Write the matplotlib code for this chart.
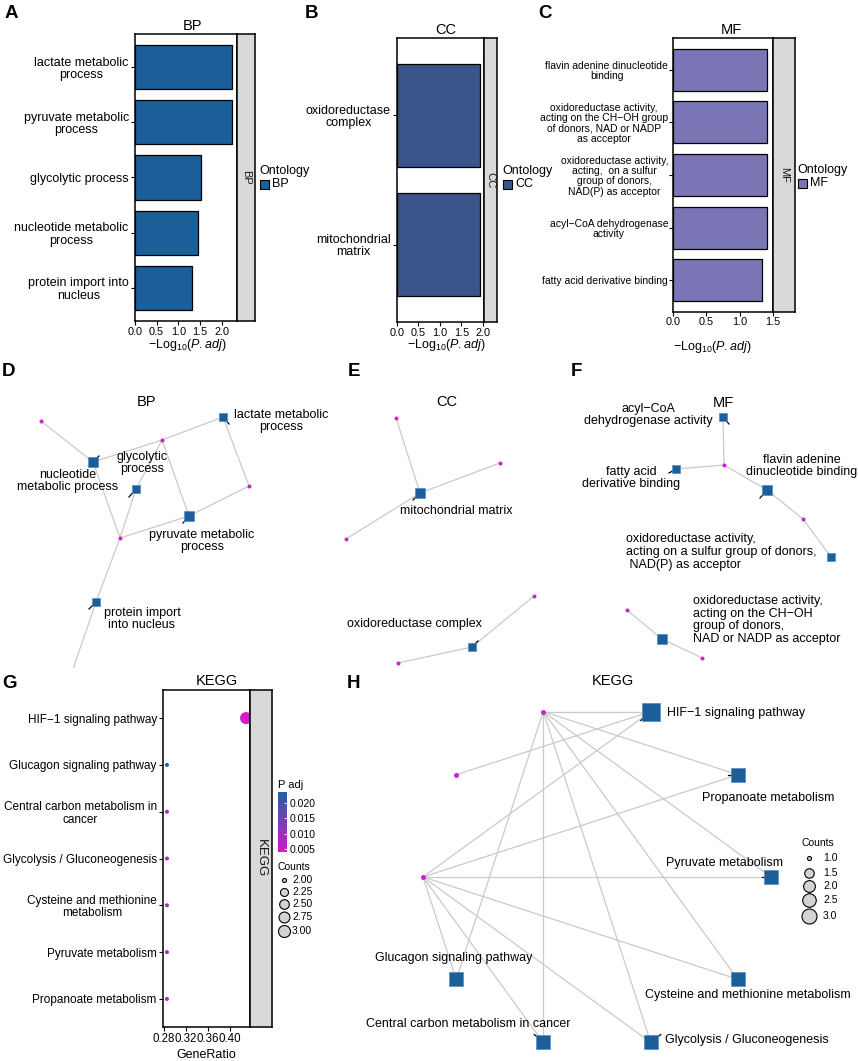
import numpy as np
import matplotlib.pyplot as plt
from matplotlib.colors import LinearSegmentedColormap, Normalize
from matplotlib.cm import ScalarMappable

plt.rcParams['font.family'] = ['Liberation Sans', 'DejaVu Sans']
plt.rcParams['mathtext.fontset'] = 'custom'
plt.rcParams['mathtext.rm'] = 'Liberation Sans'
plt.rcParams['mathtext.it'] = 'Liberation Sans:italic'

# ---------------- datos ----------------
bp_terms = ["lactate metabolic\nprocess", "pyruvate metabolic\nprocess", "glycolytic process",
            "nucleotide metabolic\nprocess", "protein import into\nnucleus"]
bp_logp = [2.24, 2.24, 1.52, 1.45, 1.31]

cc_terms = ["oxidoreductase\ncomplex", "mitochondrial\nmatrix"]
cc_logp = [1.93, 1.93]

mf_terms = ["flavin adenine dinucleotide\nbinding",
            "oxidoreductase activity,\nacting on the CH\u2212OH group\nof donors, NAD or NADP\nas acceptor",
            "oxidoreductase activity,\nacting,  on a sulfur\ngroup of donors,\nNAD(P) as acceptor",
            "acyl\u2212CoA dehydrogenase\nactivity",
            "fatty acid derivative binding"]
mf_logp = [1.41, 1.41, 1.41, 1.41, 1.34]

kegg_terms = ["HIF\u22121 signaling pathway", "Glucagon signaling pathway",
              "Central carbon metabolism in\ncancer", "Glycolysis / Gluconeogenesis",
              "Cysteine and methionine\nmetabolism", "Pyruvate metabolism", "Propanoate metabolism"]
kegg_ratio = [0.4286, 0.2857, 0.2857, 0.2857, 0.2857, 0.2857, 0.2857]
kegg_count = [3, 2, 2, 2, 2, 2, 2]
kegg_padj = [0.0040, 0.0236, 0.0080, 0.0080, 0.0080, 0.0080, 0.0080]

# redes (layout, en pixeles)
bp_net_labels = ["lactate metabolic\nprocess", "pyruvate metabolic\nprocess", "glycolytic\nprocess",
                 "nucleotide\nmetabolic process", "protein import\ninto nucleus"]
bp_net_term_xy = [(223, 417), (189, 516), (136, 489), (93, 462), (96, 602)]
bp_net_gene_xy = [(41, 421), (162, 440), (249, 486), (120, 538), (70, 678)]
bp_net_edges = [(3, 0), (3, 1), (0, 1), (0, 2), (1, 2), (1, 1), (2, 1), (2, 3),
                (3, 3), (1, 3), (4, 3), (4, 4)]

cc_net_labels = ["mitochondrial matrix", "oxidoreductase complex"]
cc_net_term_xy = [(420, 493), (472, 647)]
cc_net_gene_xy = [(396, 418), (500, 463), (346, 539), (534, 596), (398, 663)]
cc_net_edges = [(0, 0), (0, 1), (0, 2), (1, 3), (1, 4)]

mf_net_labels = ["acyl\u2212CoA\ndehydrogenase activity", "fatty acid\nderivative binding",
                 "flavin adenine\ndinucleotide binding",
                 "oxidoreductase activity,\nacting on a sulfur group of donors,\n NAD(P) as acceptor",
                 "oxidoreductase activity,\nacting on the CH\u2212OH\ngroup of donors,\nNAD or NADP as acceptor"]
mf_net_term_xy = [(723, 417), (676, 469), (767, 490), (831, 557), (662, 639)]
mf_net_gene_xy = [(724, 465), (803, 519), (627, 610), (702, 658)]
mf_net_edges = [(0, 0), (1, 0), (2, 0), (2, 1), (3, 1), (4, 2), (4, 3)]

kegg_net_order = ["gene1", "HIF\u22121 signaling pathway", "Propanoate metabolism", "Pyruvate metabolism",
                  "Cysteine and methionine metabolism", "Glycolysis / Gluconeogenesis",
                  "Central carbon metabolism in cancer", "Glucagon signaling pathway", "gene2", "gene3"]
kegg_net_genes = ["gene1", "gene2", "gene3"]
kegg_net_edges = [("gene1", p) for p in kegg_net_order[1:8]] + \
                 [("gene2", p) for p in kegg_net_order[1:8]] + \
                 [("gene3", "HIF\u22121 signaling pathway")]

# ---------------- figura ----------------
W, H = 858, 1061
fig = plt.figure(figsize=(W / 100, H / 100), dpi=100)

BP_COL = "#1B5F99"
CC_COL = "#3B5489"
MF_COL = "#7A76B5"
NODE_COL = "#1C5E98"
GENE_COL = "#CC22CC"
EDGE_COL = "#CACACA"


def px_axes(x0, y0, x1, y1):
    return fig.add_axes([x0 / W, 1 - y1 / H, (x1 - x0) / W, (y1 - y0) / H])


ov = fig.add_axes([0, 0, 1, 1])
ov.set_xlim(0, W)
ov.set_ylim(H, 0)
ov.axis('off')
ov.patch.set_alpha(0)


def pt2(d_px):
    return (d_px * 0.72) ** 2


def bar_panel(box, strip_right, terms, values, color, name, xticks, lab_size,
              title_x, xlab_xy, legend_xy, tick_pad=1.5):
    x0, y0, x1, y1 = box
    ax = px_axes(x0, y0, x1, y1)
    ypos = np.arange(len(terms))
    ax.barh(ypos, values, height=0.8, color=color, edgecolor='black', linewidth=0.9, zorder=2)
    ax.set_xlim(0, max(values) * 1.05)
    ax.set_ylim(len(terms) - 0.4, -0.6)
    ax.set_yticks(ypos)
    ax.set_yticklabels(terms, fontsize=lab_size, multialignment='center', linespacing=1.05)
    ax.set_xticks(xticks)
    ax.set_xticklabels([f"{t:.1f}" for t in xticks], fontsize=7.8)
    ax.tick_params(length=3, width=0.8, pad=tick_pad)
    for sp in ax.spines.values():
        sp.set_linewidth(1.1)
    st = px_axes(x1, y0, strip_right, y1)
    st.set_facecolor('#D9D9D9')
    st.set_xticks([])
    st.set_yticks([])
    for sp in st.spines.values():
        sp.set_linewidth(1.1)
    st.text(0.5, 0.5, name, rotation=270, ha='center', va='center', fontsize=8,
            color='#1A1A1A', transform=st.transAxes)
    ov.text(title_x, y0 - 8, name, ha='center', va='center', fontsize=10.5)
    ov.text(xlab_xy[0], xlab_xy[1], r'$-\mathrm{Log}_{10}(\mathit{P.adj})$',
            ha='center', va='center', fontsize=9)
    lx, ly = legend_xy
    ov.text(lx, ly, 'Ontology', ha='left', va='center', fontsize=9)
    ov.scatter([lx + 5], [ly + 13], marker='s', s=pt2(9), c=color, edgecolors='black', linewidths=0.8)
    ov.text(lx + 13, ly + 13, name, ha='left', va='center', fontsize=9)


# A, B, C
bar_panel((135, 34, 237, 321), 255, bp_terms, bp_logp, BP_COL, "BP",
          [0.0, 0.5, 1.0, 1.5, 2.0], 9, 192, (187, 345), (259, 171))
bar_panel((397, 38, 484, 322), 497, cc_terms, cc_logp, CC_COL, "CC",
          [0.0, 0.5, 1.0, 1.5, 2.0], 9, 446, (446, 345), (502, 171))
bar_panel((673, 38, 773, 312), 795, mf_terms, mf_logp, MF_COL, "MF",
          [0.0, 0.5, 1.0, 1.5], 7.5, 731, (712, 347), (797, 170), tick_pad=0.5)

# panel letters
for letter, (lx, ly) in zip("ABCDEFGH", [(5, 13), (305, 13), (538, 13), (2, 372), (348, 372),
                                         (571, 372), (2, 684), (347, 684)]):
    ov.text(lx, ly, letter, ha='left', va='center', fontsize=13.5, fontweight='bold')


# ---------------- redes D, E, F ----------------
def net_panel(box, term_xy, gene_xy, edges, labels, label_pos, label_ha, ticks, title, title_xy):
    x0, y0, x1, y1 = box
    ax = px_axes(x0, y0, x1, y1)
    ax.set_xlim(x0, x1)
    ax.set_ylim(y1, y0)
    ax.axis('off')
    for ti, gi in edges:
        (tx, ty), (gx, gy) = term_xy[ti], gene_xy[gi]
        ax.plot([tx, gx], [ty, gy], color=EDGE_COL, lw=0.9, zorder=1)
    deg = np.array([sum(1 for t, _ in edges if t == i) for i in range(len(term_xy))])
    side = 7.5 + 2.5 * (deg - deg.min()) / max(deg.max() - deg.min(), 1)
    for i, (tx, ty) in enumerate(term_xy):
        if ticks[i] is not None:
            dx, dy = ticks[i]
            ax.plot([tx, tx + dx], [ty, ty + dy], color='black', lw=0.9, zorder=2)
        ax.scatter([tx], [ty], marker='s', s=pt2(side[i]), c=NODE_COL, edgecolors='#4F8DC6',
                   linewidths=0.5, zorder=3)
        ax.text(label_pos[i][0], label_pos[i][1], labels[i], ha=label_ha[i], va='center',
                multialignment=label_ha[i] if label_ha[i] != 'center' else 'center',
                fontsize=9, linespacing=1.1, zorder=4)
    gx, gy = zip(*gene_xy)
    ax.scatter(gx, gy, s=pt2(4), c=GENE_COL, linewidths=0, zorder=3)
    ov.text(title_xy[0], title_xy[1], title, ha='center', va='center', fontsize=10.5)


net_panel((0, 385, 300, 668), bp_net_term_xy, bp_net_gene_xy, bp_net_edges, bp_net_labels,
          [(281, 421), (202, 541), (142, 463), (68, 481), (142, 619)],
          ['center'] * 5, [(6, 7), (-6, 7), (-7, 8), (6, -6), (-7, 7)], "BP", (146, 402))
net_panel((300, 385, 572, 668), cc_net_term_xy, cc_net_gene_xy, cc_net_edges, cc_net_labels,
          [(456, 511), (414, 624)], ['center'] * 2, [(-7, 7), (6, -6)], "CC", (447, 402))
net_panel((572, 385, 858, 668), mf_net_term_xy, mf_net_gene_xy, mf_net_edges, mf_net_labels,
          [(648, 415), (631, 478), (802, 466), (626, 552), (693, 620)],
          ['center', 'center', 'center', 'left', 'left'],
          [(6, 7), (-7, 4), (-7, 8), None, None], "MF", (723, 403))

# ---------------- G: dotplot KEGG ----------------
gx0, gy0, gx1, gy1, gstrip = 163, 690, 250, 1027, 272
axg = px_axes(gx0, gy0, gx1, gy1)
cmap = LinearSegmentedColormap.from_list('padj', ['#D01BCB', '#1F60A0'])
norm = Normalize(vmin=min(kegg_padj), vmax=max(kegg_padj))


def g_size(v):
    return 4 + 8 * np.sqrt((np.asarray(v, float) - 2) / 1.0)


ypos = np.arange(len(kegg_terms))
axg.scatter(kegg_ratio, ypos, s=pt2(g_size(kegg_count)), c=kegg_padj, cmap=cmap, norm=norm,
            linewidths=0, zorder=3)
span = max(kegg_ratio) - min(kegg_ratio)
axg.set_xlim(min(kegg_ratio) - 0.05 * span, max(kegg_ratio) + 0.05 * span)
axg.set_ylim(len(kegg_terms) - 0.4, -0.6)
axg.set_yticks(ypos)
axg.set_yticklabels(kegg_terms, fontsize=8.5, multialignment='center', linespacing=1.05)
axg.set_xticks([0.28, 0.32, 0.36, 0.40])
axg.set_xticklabels(["0.28", "0.32", "0.36", "0.40"], fontsize=8.3)
axg.tick_params(length=3, width=0.8, pad=1.5)
for sp in axg.spines.values():
    sp.set_linewidth(1.1)
stg = px_axes(gx1, gy0, gstrip, gy1)
stg.set_facecolor('#D9D9D9')
stg.set_xticks([])
stg.set_yticks([])
for sp in stg.spines.values():
    sp.set_linewidth(1.1)
stg.text(0.5, 0.5, "KEGG", rotation=270, ha='center', va='center', fontsize=9.5,
         color='#1A1A1A', transform=stg.transAxes)
ov.text(217, 681, "KEGG", ha='center', va='center', fontsize=10.5)
ov.text(206, 1055, "GeneRatio", ha='center', va='center', fontsize=9)

# colorbar P adj
ov.text(278, 785, "P adj", ha='left', va='center', fontsize=8)
cax = px_axes(278, 792, 287, 852)
cb = fig.colorbar(ScalarMappable(norm=norm, cmap=cmap), cax=cax, ticks=[0.005, 0.010, 0.015, 0.020])
cb.outline.set_visible(False)
cb.ax.set_yticklabels(["0.005", "0.010", "0.015", "0.020"], fontsize=7.5)
cb.ax.tick_params(length=2, width=0.6, color='white', direction='in', pad=2)

# counts legend G
g_leg_vals = [2.00, 2.25, 2.50, 2.75, 3.00]
ov.text(278, 867, "Counts", ha='left', va='center', fontsize=7.5)
for v, yy in zip(g_leg_vals, [880, 892, 904, 917, 931]):
    ov.scatter([284], [yy], s=pt2(g_size(v)), c='#D3D3D3', edgecolors='black', linewidths=0.8)
    ov.text(292, yy, f"{v:.2f}", ha='left', va='center', fontsize=7.5)

# ---------------- H: red KEGG ----------------
axh = px_axes(370, 690, 858, 1061)
axh.set_xlim(370, 858)
axh.set_ylim(1061, 690)
axh.axis('off')
cx, cy, rad = 597, 877, 174
ang = np.deg2rad(108 - 36 * np.arange(len(kegg_net_order)))
pos = {n: (cx + rad * np.cos(a), cy - rad * np.sin(a)) for n, a in zip(kegg_net_order, ang)}
for g, p in kegg_net_edges:
    axh.plot([pos[g][0], pos[p][0]], [pos[g][1], pos[p][1]], color=EDGE_COL, lw=0.9, zorder=1)


def h_size(v):
    return 4 + 11 * np.sqrt((np.asarray(v, float) - 1) / 2.0)


h_label_place = {
    "HIF\u22121 signaling pathway": ((667, 713), 'left', (-10, 9)),
    "Propanoate metabolism": ((768, 798), 'center', (-10, 0)),
    "Pyruvate metabolism": ((724, 863), 'center', (-9, 0)),
    "Cysteine and methionine metabolism": ((748, 995), 'center', None),
    "Glycolysis / Gluconeogenesis": ((665, 1040), 'left', (10, -8)),
    "Central carbon metabolism in cancer": ((468, 1024), 'center', (-9, -8)),
    "Glucagon signaling pathway": ((454, 958), 'center', None),
}
for n in kegg_net_order:
    x, y = pos[n]
    if n in kegg_net_genes:
        axh.scatter([x], [y], s=pt2(5), c=GENE_COL, linewidths=0, zorder=3)
        continue
    cnt = sum(1 for g, p in kegg_net_edges if p == n)
    (lx, ly), ha, tick = h_label_place[n]
    if tick is not None:
        axh.plot([x, x + tick[0]], [y, y + tick[1]], color='black', lw=0.9, zorder=2)
    axh.scatter([x], [y], marker='s', s=pt2(h_size(cnt) * 1.18), c=NODE_COL, edgecolors='#4F8DC6',
                linewidths=0.5, zorder=3)
    axh.text(lx, ly, n, ha=ha, va='center', fontsize=9, zorder=4)
ov.text(613, 681, "KEGG", ha='center', va='center', fontsize=10.5)

# counts legend H
h_leg_vals = [1.0, 1.5, 2.0, 2.5, 3.0]
ov.text(802, 843, "Counts", ha='left', va='center', fontsize=7.5)
for v, yy in zip(h_leg_vals, [858, 873, 886, 900, 916]):
    ov.scatter([809], [yy], s=pt2(h_size(v)), c='#D3D3D3', edgecolors='black', linewidths=0.8)
    ov.text(823, yy, f"{v:.1f}", ha='left', va='center', fontsize=7.5)

fig.savefig("out.png", dpi=100)
